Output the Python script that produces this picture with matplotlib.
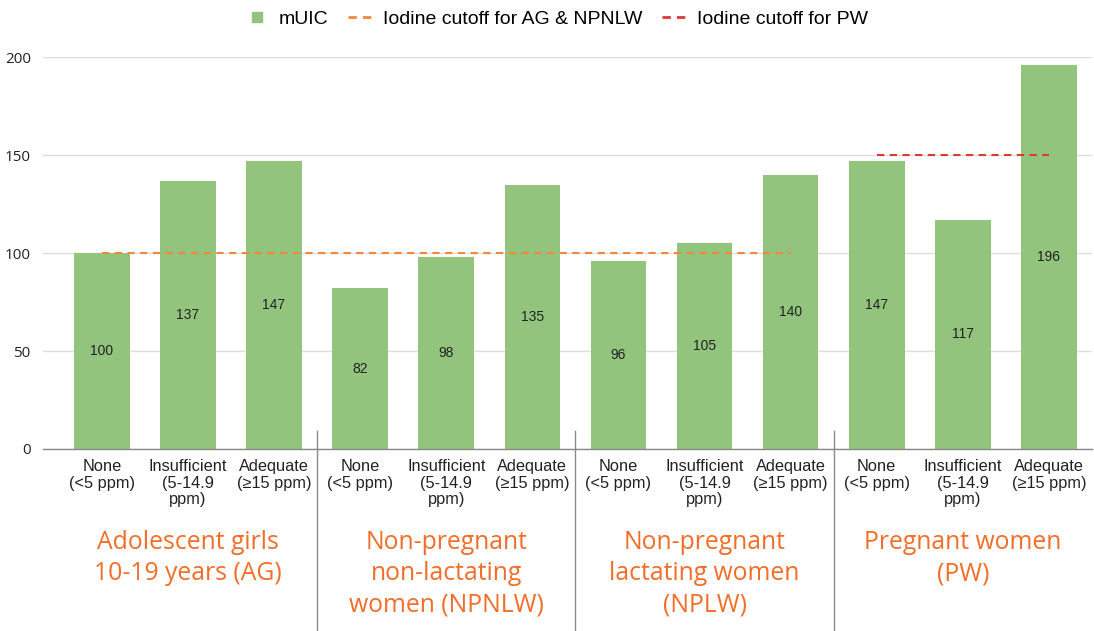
import matplotlib
matplotlib.use("Agg")
import matplotlib.pyplot as plt
import matplotlib.transforms as mtransforms
from matplotlib.lines import Line2D
import numpy as np

# Data
salt_levels = ["None\n(<5 ppm)", "Insufficient\n(5-14.9\nppm)", "Adequate\n(≥15 ppm)"]
groups = ["Adolescent girls\n10-19 years (AG)",
          "Non-pregnant\nnon-lactating\nwomen (NPNLW)",
          "Non-pregnant\nlactating women\n(NPLW)",
          "Pregnant women\n(PW)"]
muic = [100, 137, 147, 82, 98, 135, 96, 105, 140, 147, 117, 196]
cutoff_ag_npnlw = 100
cutoff_pw = 150
yticks = [0, 50, 100, 150, 200]

BAR = "#93c47d"
ORANGE_LINE = "#f4873a"
RED_LINE = "#dc3a33"
GROUP_TXT = "#f26d28"
SEP = "#8a8a8a"

fig = plt.figure(figsize=(10.94, 6.31), dpi=100)
ax = fig.add_axes([43.3 / 1094, 1 - 449 / 631, (1092 - 43.3) / 1094, (449 - 57.3) / 631])

x = np.arange(len(muic))
ax.bar(x, muic, width=0.645, color=BAR, zorder=2)

for xi, v in zip(x, muic):
    ax.text(xi, v / 2, f"{v}", ha="center", va="center", fontsize=10,
            family="Liberation Sans", color="#222222", zorder=3)

# Cutoff lines
ax.plot([0, 8], [cutoff_ag_npnlw] * 2, color=ORANGE_LINE, lw=1.5,
        linestyle=(0, (3.5, 2.6)), zorder=4)
ax.plot([9, 11], [cutoff_pw] * 2, color=RED_LINE, lw=1.5,
        linestyle=(0, (3.5, 2.6)), zorder=4)

ax.set_xlim(-0.68, 11.5)
ax.set_ylim(0, 200)
ax.set_yticks(yticks)
ax.set_yticklabels([str(t) for t in yticks], family="Open Sans", fontsize=11, color="#222222")
ax.yaxis.grid(True, color="#dddddd", lw=1, zorder=0)
ax.set_axisbelow(True)
for s in ["top", "right", "left"]:
    ax.spines[s].set_visible(False)
ax.spines["bottom"].set_color("#888888")
ax.spines["bottom"].set_linewidth(1)
ax.tick_params(axis="y", length=0, pad=9)

ax.set_xticks(x)
ax.set_xticklabels(salt_levels * 4, family="Liberation Sans", fontsize=11.8,
                   linespacing=1.1, color="#222222")
ax.tick_params(axis="x", length=0, pad=7.5)

# Group separators and group labels
blend = mtransforms.blended_transform_factory(ax.transData, fig.transFigure)
for sx in [2.5, 5.5, 8.5]:
    fig.add_artist(Line2D([sx, sx], [1 - 431 / 631, 0], transform=blend,
                          color=SEP, lw=1))
for gi, label in enumerate(groups):
    ax.text(gi * 3 + 1, 1 - 530 / 631, label, transform=blend, ha="center", va="top",
            fontsize=17.8, family="Open Sans", color=GROUP_TXT, linespacing=1.33)

# Legend
handles = [
    Line2D([], [], marker="s", linestyle="none", color=BAR, markersize=7),
    Line2D([], [], color=ORANGE_LINE, lw=2, linestyle=(0, (3, 2.2))),
    Line2D([], [], color=RED_LINE, lw=2, linestyle=(0, (3, 2.2))),
]
labels = ["mUIC", "Iodine cutoff for AG & NPNLW", "Iodine cutoff for PW"]
fig.legend(handles, labels, loc="center", bbox_to_anchor=(0.508, 1 - 19 / 631), ncol=3,
           frameon=False, handlelength=1.4, handletextpad=0.4, columnspacing=1.0,
           prop={"family": "Liberation Sans", "size": 14})

fig.savefig("out.png", dpi=100)
